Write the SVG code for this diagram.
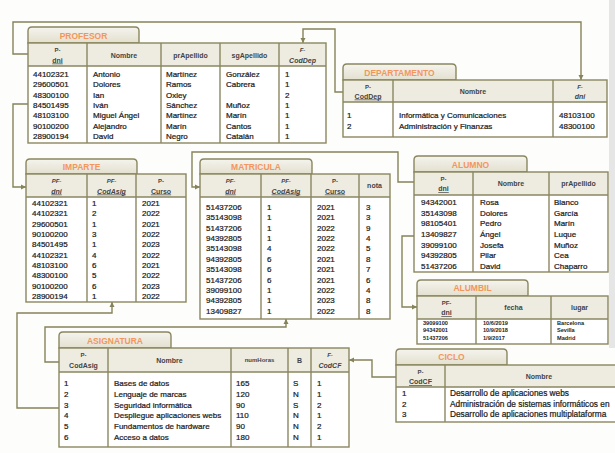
<svg xmlns="http://www.w3.org/2000/svg" width="615" height="453" viewBox="0 0 615 453">
<defs>
<linearGradient id="tabg" x1="0" y1="0" x2="0" y2="1">
<stop offset="0" stop-color="#f5f4ee"/>
<stop offset="1" stop-color="#e3e0ce"/>
</linearGradient>
<marker id="ar" markerUnits="userSpaceOnUse" markerWidth="6" markerHeight="6" refX="5" refY="3" orient="auto">
<path d="M0,0.5 L5,3 L0,5.5 z" fill="#858359"/>
</marker>
<style>
.tab{fill:url(#tabg);stroke:#8a8760;stroke-width:1.4}
.hd{fill:#eeece1}
.bd{fill:#ffffff}
.bx{fill:none;stroke:#8a8760;stroke-width:1.4}
.ln{stroke:#8a8760;stroke-width:1.4}
.t{font-family:"Liberation Sans",Arial,sans-serif;font-size:8.5px;font-weight:bold;fill:#f3965c;text-anchor:middle}
.h{font-family:"Liberation Sans",Arial,sans-serif;font-size:7px;font-weight:bold;fill:#444;text-anchor:middle}
.hs{font-family:"Liberation Sans",Arial,sans-serif;font-size:6px;font-weight:bold;fill:#444;text-anchor:middle}
.i{font-style:italic}
.u{text-decoration:underline}
.d{font-family:"Liberation Sans",Arial,sans-serif;font-size:8px;fill:#1a1a1a;stroke:#1a1a1a;stroke-width:0.22}
.dc{font-size:8.3px}
.ds{font-family:"Liberation Sans",Arial,sans-serif;font-size:5.6px;font-weight:bold;fill:#1e1e1e}
.c{fill:none;stroke:#858359;stroke-width:1.4;marker-end:url(#ar)}
</style>
</defs>
<rect width="615" height="453" fill="#fdfdfb"/>
<rect x="609" y="0" width="6" height="348" fill="#e6e6e6"/>

<g id="connectors">
<path class="c" d="M28,54 H13 V22 H581 V80"/>
<path class="c" d="M343,92 H335 V29 H303 V43"/>
<path class="c" d="M28,104 H13 V187 H26"/>
<path class="c" d="M414,182 H398 V152 H192 V187 H200"/>
<path class="c" d="M414,236 H402 V307 H417"/>
<path class="c" d="M59,408 H17 V313 H112 V302"/>
<path class="c" d="M59,362 H45 V327 H286 V319"/>
<path class="c" d="M396,377 H372 V360 H349"/>
</g>

<g id="profesor">
<path class="tab" d="M28,43 V31 Q28,27 32,27 H135 Q139,27 139,31 V43 Z"/>
<text class="t" x="83.5" y="38.5">PROFESOR</text>
<rect class="hd" x="28" y="43" width="298" height="23"/>
<rect class="bd" x="28" y="66" width="298" height="77"/>
<rect class="bx" x="28" y="43" width="298" height="100"/>
<line class="ln" x1="28" y1="66" x2="326" y2="66"/>
<line class="ln" x1="87" y1="43" x2="87" y2="143"/>
<line class="ln" x1="161" y1="43" x2="161" y2="143"/>
<line class="ln" x1="220" y1="43" x2="220" y2="143"/>
<line class="ln" x1="279" y1="43" x2="279" y2="143"/>
<text class="hs" x="57.5" y="52">P-</text>
<text class="h u" x="57.5" y="62.5">dni</text>
<text class="h" x="124" y="57.5">Nombre</text>
<text class="h" x="190.5" y="57.5">prApellido</text>
<text class="h" x="249.5" y="57.5">sgApellido</text>
<text class="hs i" x="302.5" y="52">F-</text>
<text class="h i" x="302.5" y="62.5">CodDep</text>
<text class="d" x="33" y="77">44102321</text><text class="d" x="93" y="77">Antonio</text><text class="d" x="166" y="77">Martínez</text><text class="d" x="226" y="77">González</text><text class="d" x="285" y="77">1</text>
<text class="d" x="33" y="87.3">29600501</text><text class="d" x="93" y="87.3">Dolores</text><text class="d" x="166" y="87.3">Ramos</text><text class="d" x="226" y="87.3">Cabrera</text><text class="d" x="285" y="87.3">1</text>
<text class="d" x="33" y="97.6">48300100</text><text class="d" x="93" y="97.6">Ian</text><text class="d" x="166" y="97.6">Oxley</text><text class="d" x="285" y="97.6">2</text>
<text class="d" x="33" y="107.9">84501495</text><text class="d" x="93" y="107.9">Iván</text><text class="d" x="166" y="107.9">Sánchez</text><text class="d" x="226" y="107.9">Muñoz</text><text class="d" x="285" y="107.9">1</text>
<text class="d" x="33" y="118.2">48103100</text><text class="d" x="93" y="118.2">Miguel Ángel</text><text class="d" x="166" y="118.2">Martínez</text><text class="d" x="226" y="118.2">Marín</text><text class="d" x="285" y="118.2">1</text>
<text class="d" x="33" y="128.5">90100200</text><text class="d" x="93" y="128.5">Alejandro</text><text class="d" x="166" y="128.5">Marín</text><text class="d" x="226" y="128.5">Cantos</text><text class="d" x="285" y="128.5">1</text>
<text class="d" x="33" y="138.8">28900194</text><text class="d" x="93" y="138.8">David</text><text class="d" x="166" y="138.8">Negro</text><text class="d" x="226" y="138.8">Catalán</text><text class="d" x="285" y="138.8">1</text>
</g>

<g id="departamento">
<path class="tab" d="M343,80 V68 Q343,64 347,64 H452 Q456,64 456,68 V80 Z"/>
<text class="t" x="399.5" y="75.5">DEPARTAMENTO</text>
<rect class="hd" x="343" y="80" width="264" height="22"/>
<rect class="bd" x="343" y="102" width="264" height="35"/>
<rect class="bx" x="343" y="80" width="264" height="57"/>
<line class="ln" x1="343" y1="102" x2="607" y2="102"/>
<line class="ln" x1="393" y1="80" x2="393" y2="137"/>
<line class="ln" x1="553" y1="80" x2="553" y2="137"/>
<text class="hs" x="368" y="88.5">P-</text>
<text class="h u" x="368" y="98.5">CodDep</text>
<text class="h" x="473" y="93.5">Nombre</text>
<text class="hs i" x="580" y="88.5">F-</text>
<text class="h i" x="580" y="98.5">dni</text>
<text class="d" x="347" y="118">1</text><text class="d" x="399" y="118">Informática y Comunicaciones</text><text class="d" x="559" y="118">48103100</text>
<text class="d" x="347" y="128.5">2</text><text class="d" x="399" y="128.5">Administración y Finanzas</text><text class="d" x="559" y="128.5">48300100</text>
</g>

<g id="imparte">
<path class="tab" d="M26,174 V163 Q26,159 30,159 H133 Q137,159 137,163 V174 Z"/>
<text class="t" x="81.5" y="169.5">IMPARTE</text>
<rect class="hd" x="26" y="174" width="160" height="23"/>
<rect class="bd" x="26" y="197" width="160" height="105"/>
<rect class="bx" x="26" y="174" width="160" height="128"/>
<line class="ln" x1="26" y1="197" x2="186" y2="197"/>
<line class="ln" x1="87" y1="174" x2="87" y2="302"/>
<line class="ln" x1="136" y1="174" x2="136" y2="302"/>
<text class="hs i" x="56.5" y="183">PF-</text>
<text class="h i u" x="56.5" y="193.5">dni</text>
<text class="hs i" x="111.5" y="183">PF-</text>
<text class="h i u" x="111.5" y="193.5">CodAsig</text>
<text class="hs" x="161" y="183">P-</text>
<text class="h u" x="161" y="193.5">Curso</text>
<text class="d" x="32" y="206">44102321</text><text class="d" x="92" y="206">1</text><text class="d" x="142" y="206">2021</text>
<text class="d" x="32" y="216.3">44102321</text><text class="d" x="92" y="216.3">2</text><text class="d" x="142" y="216.3">2022</text>
<text class="d" x="32" y="226.7">29600501</text><text class="d" x="92" y="226.7">1</text><text class="d" x="142" y="226.7">2021</text>
<text class="d" x="32" y="237">90100200</text><text class="d" x="92" y="237">3</text><text class="d" x="142" y="237">2022</text>
<text class="d" x="32" y="247.3">84501495</text><text class="d" x="92" y="247.3">1</text><text class="d" x="142" y="247.3">2023</text>
<text class="d" x="32" y="257.7">44102321</text><text class="d" x="92" y="257.7">4</text><text class="d" x="142" y="257.7">2022</text>
<text class="d" x="32" y="268">48103100</text><text class="d" x="92" y="268">6</text><text class="d" x="142" y="268">2021</text>
<text class="d" x="32" y="278.3">48300100</text><text class="d" x="92" y="278.3">5</text><text class="d" x="142" y="278.3">2022</text>
<text class="d" x="32" y="288.6">90100200</text><text class="d" x="92" y="288.6">6</text><text class="d" x="142" y="288.6">2023</text>
<text class="d" x="32" y="299">28900194</text><text class="d" x="92" y="299">1</text><text class="d" x="142" y="299">2022</text>
</g>

<g id="matricula">
<path class="tab" d="M200,174 V163 Q200,159 204,159 H308 Q312,159 312,163 V174 Z"/>
<text class="t" x="256" y="169.5">MATRICULA</text>
<rect class="hd" x="200" y="174" width="190" height="23"/>
<rect class="bd" x="200" y="197" width="190" height="122"/>
<rect class="bx" x="200" y="174" width="190" height="145"/>
<line class="ln" x1="200" y1="197" x2="390" y2="197"/>
<line class="ln" x1="261" y1="174" x2="261" y2="319"/>
<line class="ln" x1="311" y1="174" x2="311" y2="319"/>
<line class="ln" x1="359" y1="174" x2="359" y2="319"/>
<text class="hs i" x="230.5" y="183">PF-</text>
<text class="h i u" x="230.5" y="193.5">dni</text>
<text class="hs i" x="286" y="183">PF-</text>
<text class="h i u" x="286" y="193.5">CodAsig</text>
<text class="hs" x="335" y="183">P-</text>
<text class="h u" x="335" y="193.5">Curso</text>
<text class="h" x="374.5" y="188">nota</text>
<text class="d" x="206" y="210">51437206</text><text class="d" x="267" y="210">1</text><text class="d" x="317" y="210">2021</text><text class="d" x="366" y="210">3</text>
<text class="d" x="206" y="220.4">35143098</text><text class="d" x="267" y="220.4">1</text><text class="d" x="317" y="220.4">2021</text><text class="d" x="366" y="220.4">3</text>
<text class="d" x="206" y="230.7">51437206</text><text class="d" x="267" y="230.7">1</text><text class="d" x="317" y="230.7">2022</text><text class="d" x="366" y="230.7">9</text>
<text class="d" x="206" y="241.1">94392805</text><text class="d" x="267" y="241.1">1</text><text class="d" x="317" y="241.1">2022</text><text class="d" x="366" y="241.1">4</text>
<text class="d" x="206" y="251.4">35143098</text><text class="d" x="267" y="251.4">4</text><text class="d" x="317" y="251.4">2022</text><text class="d" x="366" y="251.4">5</text>
<text class="d" x="206" y="261.8">94392805</text><text class="d" x="267" y="261.8">6</text><text class="d" x="317" y="261.8">2021</text><text class="d" x="366" y="261.8">8</text>
<text class="d" x="206" y="272.1">35143098</text><text class="d" x="267" y="272.1">6</text><text class="d" x="317" y="272.1">2021</text><text class="d" x="366" y="272.1">7</text>
<text class="d" x="206" y="282.5">51437206</text><text class="d" x="267" y="282.5">6</text><text class="d" x="317" y="282.5">2021</text><text class="d" x="366" y="282.5">6</text>
<text class="d" x="206" y="292.8">39099100</text><text class="d" x="267" y="292.8">1</text><text class="d" x="317" y="292.8">2022</text><text class="d" x="366" y="292.8">4</text>
<text class="d" x="206" y="303.2">94392805</text><text class="d" x="267" y="303.2">1</text><text class="d" x="317" y="303.2">2023</text><text class="d" x="366" y="303.2">8</text>
<text class="d" x="206" y="313.5">13409827</text><text class="d" x="267" y="313.5">1</text><text class="d" x="317" y="313.5">2022</text><text class="d" x="366" y="313.5">8</text>
</g>

<g id="alumno">
<path class="tab" d="M414,172 V160 Q414,156 418,156 H523 Q527,156 527,160 V172 Z"/>
<text class="t" x="470.5" y="167.5">ALUMNO</text>
<rect class="hd" x="414" y="172" width="194" height="23"/>
<rect class="bd" x="414" y="195" width="194" height="77"/>
<rect class="bx" x="414" y="172" width="194" height="100"/>
<line class="ln" x1="414" y1="195" x2="608" y2="195"/>
<line class="ln" x1="473" y1="172" x2="473" y2="272"/>
<line class="ln" x1="549" y1="172" x2="549" y2="272"/>
<text class="hs" x="443.5" y="180.5">P-</text>
<text class="h u" x="443.5" y="191">dni</text>
<text class="h" x="511" y="186">Nombre</text>
<text class="h" x="578.5" y="186">prApellido</text>
<text class="d" x="421" y="205">94342001</text><text class="d" x="480" y="205">Rosa</text><text class="d" x="554" y="205">Blanco</text>
<text class="d" x="421" y="215.6">35143098</text><text class="d" x="480" y="215.6">Dolores</text><text class="d" x="554" y="215.6">García</text>
<text class="d" x="421" y="226.3">98105401</text><text class="d" x="480" y="226.3">Pedro</text><text class="d" x="554" y="226.3">Marín</text>
<text class="d" x="421" y="236.9">13409827</text><text class="d" x="480" y="236.9">Ángel</text><text class="d" x="554" y="236.9">Luque</text>
<text class="d" x="421" y="247.6">39099100</text><text class="d" x="480" y="247.6">Josefa</text><text class="d" x="554" y="247.6">Muñoz</text>
<text class="d" x="421" y="258.2">94392805</text><text class="d" x="480" y="258.2">Pilar</text><text class="d" x="554" y="258.2">Cea</text>
<text class="d" x="421" y="268.9">51437206</text><text class="d" x="480" y="268.9">David</text><text class="d" x="554" y="268.9">Chaparro</text>
</g>

<g id="alumbil">
<path class="tab" d="M417,296 V284 Q417,280 421,280 H524 Q528,280 528,284 V296 Z"/>
<text class="t" x="472.5" y="291">ALUMBIL</text>
<rect class="hd" x="417" y="296" width="191" height="23"/>
<rect class="bd" x="417" y="319" width="191" height="25"/>
<rect class="bx" x="417" y="296" width="191" height="48"/>
<line class="ln" x1="417" y1="319" x2="608" y2="319"/>
<line class="ln" x1="476" y1="296" x2="476" y2="344"/>
<line class="ln" x1="551" y1="296" x2="551" y2="344"/>
<text class="hs" x="446.5" y="305">PF-</text>
<text class="h u" x="446.5" y="315">dni</text>
<text class="h" x="513.5" y="310">fecha</text>
<text class="h" x="579.5" y="310">lugar</text>
<text class="ds" x="423" y="324.5">39099100</text><text class="ds" x="483" y="324.5">10/6/2019</text><text class="ds" x="557" y="324.5">Barcelona</text>
<text class="ds" x="423" y="332.2">94342001</text><text class="ds" x="483" y="332.2">10/9/2018</text><text class="ds" x="557" y="332.2">Sevilla</text>
<text class="ds" x="423" y="339.9">51437206</text><text class="ds" x="483" y="339.9">1/9/2017</text><text class="ds" x="557" y="339.9">Madrid</text>
</g>

<g id="asignatura">
<path class="tab" d="M59,348 V336 Q59,332 63,332 H167 Q171,332 171,336 V348 Z"/>
<text class="t" x="115" y="343.5">ASIGNATURA</text>
<rect class="hd" x="59" y="348" width="290" height="24"/>
<rect class="bd" x="59" y="372" width="290" height="75"/>
<rect class="bx" x="59" y="348" width="290" height="99"/>
<line class="ln" x1="59" y1="372" x2="349" y2="372"/>
<line class="ln" x1="108" y1="348" x2="108" y2="447"/>
<line class="ln" x1="231" y1="348" x2="231" y2="447"/>
<line class="ln" x1="288" y1="348" x2="288" y2="447"/>
<line class="ln" x1="311" y1="348" x2="311" y2="447"/>
<text class="hs" x="83.5" y="357">P-</text>
<text class="h" x="83.5" y="367.5">CodAsig</text>
<text class="h" x="169.5" y="362.5">Nombre</text>
<text class="hs" x="259.5" y="362">numHoras</text>
<text class="h" x="299.5" y="362.5">B</text>
<text class="hs i" x="330" y="357">F-</text>
<text class="h i" x="330" y="367.5">CodCF</text>
<text class="d" x="64" y="386">1</text><text class="d" x="114" y="386">Bases de datos</text><text class="d" x="236" y="386">165</text><text class="d" x="293" y="386">S</text><text class="d" x="317" y="386">1</text>
<text class="d" x="64" y="396.8">2</text><text class="d" x="114" y="396.8">Lenguaje de marcas</text><text class="d" x="236" y="396.8">120</text><text class="d" x="293" y="396.8">N</text><text class="d" x="317" y="396.8">1</text>
<text class="d" x="64" y="407.6">3</text><text class="d" x="114" y="407.6">Seguridad informática</text><text class="d" x="236" y="407.6">90</text><text class="d" x="293" y="407.6">S</text><text class="d" x="317" y="407.6">2</text>
<text class="d" x="64" y="418.4">4</text><text class="d" x="114" y="418.4">Despliegue aplicaciones webs</text><text class="d" x="236" y="418.4">110</text><text class="d" x="293" y="418.4">N</text><text class="d" x="317" y="418.4">1</text>
<text class="d" x="64" y="429.2">5</text><text class="d" x="114" y="429.2">Fundamentos de hardware</text><text class="d" x="236" y="429.2">90</text><text class="d" x="293" y="429.2">N</text><text class="d" x="317" y="429.2">2</text>
<text class="d" x="64" y="440">6</text><text class="d" x="114" y="440">Acceso a datos</text><text class="d" x="236" y="440">180</text><text class="d" x="293" y="440">N</text><text class="d" x="317" y="440">1</text>
</g>

<g id="ciclo">
<path class="tab" d="M396,365 V353 Q396,349 400,349 H503 Q507,349 507,353 V365 Z"/>
<text class="t" x="451.5" y="360">CICLO</text>
<rect class="hd" x="396" y="365" width="240" height="22"/>
<rect class="bd" x="396" y="387" width="240" height="35"/>
<rect class="bx" x="396" y="365" width="240" height="57"/>
<line class="ln" x1="396" y1="387" x2="636" y2="387"/>
<line class="ln" x1="445" y1="365" x2="445" y2="422"/>
<text class="hs" x="420.5" y="373.5">P-</text>
<text class="h u" x="420.5" y="384">CodCF</text>
<text class="h" x="539" y="378.5">Nombre</text>
<text class="d" x="402" y="396">1</text><text class="d dc" x="450" y="396">Desarrollo de aplicaciones webs</text>
<text class="d" x="402" y="406.5">2</text><text class="d dc" x="450" y="406.5">Administración de sistemas informáticos en</text>
<text class="d" x="402" y="417">3</text><text class="d dc" x="450" y="417">Desarrollo de aplicaciones multiplataforma</text>
</g>
</svg>
